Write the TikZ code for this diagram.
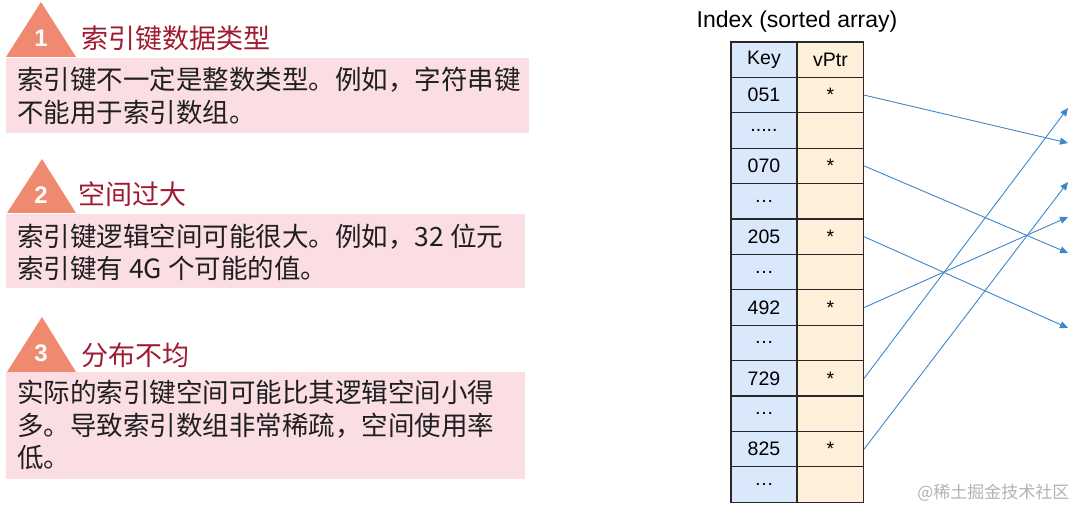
\documentclass[tikz,border=0pt]{standalone}
\usepackage{fontspec}
\setmainfont{Liberation Sans}
\newfontfamily\cjk{Noto Sans CJK SC}
\usetikzlibrary{arrows.meta,positioning}
\definecolor{IDX-SALMON}{RGB}{239,137,111}
\definecolor{IDX-PINK}{RGB}{250,222,228}
\definecolor{IDX-RED}{RGB}{160,26,48}
\definecolor{IDX-KEY}{RGB}{218,232,252}
\definecolor{IDX-PTR}{RGB}{255,240,220}
\definecolor{IDX-LINE}{RGB}{60,135,205}
\definecolor{IDX-EDGE}{RGB}{40,40,40}
\newcommand\fivedots{.....}

\tikzset{
  keycell/.style={draw=IDX-EDGE, line width=1.3pt, fill=IDX-KEY, minimum width=66pt,
    minimum height=35.4pt, inner sep=0pt, font=\fontsize{19.5}{19.5}\selectfont},
  ptrcell/.style={keycell, fill=IDX-PTR},
  ptrarrow/.style={-{Triangle[length=8pt,width=7pt]}, IDX-LINE, line width=0.9pt},
  badge/.style={white, inner sep=0pt, font=\bfseries\fontsize{24}{24}\selectfont},
  heading/.style={anchor=west, IDX-RED, inner sep=0pt, font=\cjk\fontsize{27}{27}\selectfont},
  bodytext/.style={anchor=west, align=left, inner sep=0pt, text=black!88,
    font=\cjk\fontsize{26.5}{32.5}\selectfont},
}

\begin{document}
\begin{tikzpicture}[x=1pt, y=-1pt]
  \useasboundingbox (0,0) rectangle (1080,510);

  % Problem 1: key type
  \fill[IDX-SALMON] (6,57) -- (41,2) -- (76,57) -- cycle;
  \node[badge] (n1) at (41,38) {1};
  \node[heading] (h1) at (81,38) {索引键数据类型};
  \fill[IDX-PINK] (6,58) rectangle (529,133);
  \node[bodytext] (b1) at (17,96) {索引键不一定是整数类型。例如，字符串键\\不能用于索引数组。};

  % Problem 2: space too large
  \fill[IDX-SALMON] (7,213) -- (42,159) -- (76,213) -- cycle;
  \node[badge] (n2) at (41,195) {2};
  \node[heading] (h2) at (78,194) {空间过大};
  \fill[IDX-PINK] (6,214) rectangle (525,288);
  \node[bodytext] (b2) at (17,252.5) {索引键逻辑空间可能很大。例如，32 位元\\索引键有 4G 个可能的值。};

  % Problem 3: uneven distribution
  \fill[IDX-SALMON] (7,372) -- (42,317) -- (76,372) -- cycle;
  \node[badge] (n3) at (41,353) {3};
  \node[heading] (h3) at (81,355) {分布不均};
  \fill[IDX-PINK] (6,372) rectangle (525,479);
  \node[bodytext] (b3) at (17,425) {实际的索引键空间可能比其逻辑空间小得\\多。导致索引数组非常稀疏，空间使用率\\低。};

  % Index table
  \node[font=\fontsize{23}{23}\selectfont] (title) at (797,22) {Index (sorted array)};
  \foreach \k/\p [count=\i] in {Key/vPtr, 051/*, \fivedots/{}, 070/*, …/{}, 205/*, …/{},
      492/*, …/{}, 729/*, …/{}, 825/*, …/{}} {
    \node[keycell] (k\i) at (764, 24.3+35.4*\i) {\k};
    \node[ptrcell] (p\i) at (830.5, 24.3+35.4*\i) {\p};
  }

  % Record slots
  \coordinate (r1) at (1068,108);
  \coordinate (r2) at (1068,143);
  \coordinate (r3) at (1068,182);
  \coordinate (r4) at (1068,217);
  \coordinate (r5) at (1068,253);
  \coordinate (r6) at (1068,328);

  \draw[ptrarrow] (p2.east) -- (r2);
  \draw[ptrarrow] (p4.east) -- (r5);
  \draw[ptrarrow] (p6.east) -- (r6);
  \draw[ptrarrow] (p8.east) -- (r4);
  \draw[ptrarrow] (p10.east) -- (r1);
  \draw[ptrarrow] (p12.east) -- (r3);

  \node[anchor=east, text=black!30, font=\cjk\fontsize{17}{17}\selectfont] (mark) at (1073,493) {@稀土掘金技术社区};
\end{tikzpicture}
\end{document}
